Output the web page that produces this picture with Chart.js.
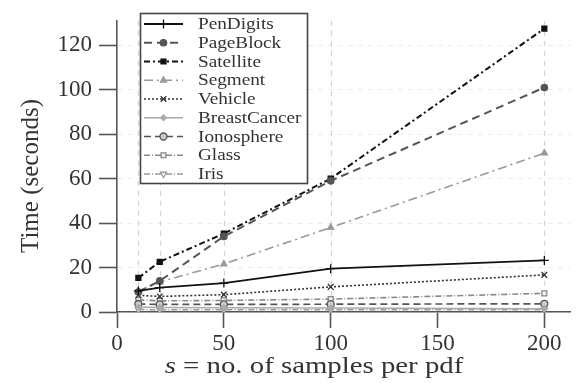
<!DOCTYPE html>
<html>
<head>
<meta charset="utf-8">
<script src="https://cdn.jsdelivr.net/npm/chart.js@4.4.0/dist/chart.umd.min.js"></script>
<style>
  html, body { margin: 0; padding: 0; background: #fff; }
  #wrap { width: 577px; height: 383px; }
</style>
</head>
<body>
<div id="wrap"><canvas id="timeChart"></canvas></div>
<script>
// samples per pdf (x values)
var sampleSizes = [10, 20, 50, 100, 200];

// running time in seconds, one array per data set
var penDigits    = [9.5, 11, 13, 19.5, 23.2];
var pageBlock    = [9, 14, 34, 59, 101];
var satellite    = [15.3, 22.6, 35.3, 60, 127.5];
var segment      = [9.5, 13.5, 21.6, 38, 71.5];
var vehicle      = [7.5, 7, 7.8, 11.3, 16.7];
var breastCancer = [2.2, 2, 1.9, 1.8, 1.5];
var ionosphere   = [3.6, 3.4, 3.4, 3.5, 3.7];
var glass        = [5.5, 5, 5.2, 5.8, 8.4];
var iris         = [1.1, 1, 1, 1, 1];

var yTicks = [0, 20, 40, 60, 80, 100, 120];
var xTicks = [0, 50, 100, 150, 200];

var serif = "'Liberation Serif', 'DejaVu Serif', serif";

function points(values) {
    return sampleSizes.map(function (s, i) { return { x: s, y: values[i] }; });
}

function series(label, values, color, dash, style, radius, fill, width, rot) {
    return {
        label: label,
        data: points(values),
        borderColor: color,
        borderWidth: width || 1.5,
        borderDash: dash,
        pointStyle: style,
        pointRadius: radius,
        pointRotation: rot || 0,
        pointBackgroundColor: fill,
        pointBorderColor: color,
        pointBorderWidth: 1.3,
        fill: false,
        tension: 0
    };
}

var datasets = [
    series("PenDigits", penDigits, "#111", [], "cross", 4.5, "#111", 1.8),
    series("PageBlock", pageBlock, "#555", [8, 5], "circle", 3.2, "#555", 2),
    series("Satellite", satellite, "#111", [6, 3, 2, 3], "rect", 3.5, "#111", 2),
    series("Segment", segment, "#999", [9, 4, 2, 4], "triangle", 3.5, "#999", 1.6),
    series("Vehicle", vehicle, "#333", [2, 2], "crossRot", 4, "#333", 1.6),
    series("BreastCancer", breastCancer, "#aaa", [], "rectRot", 2.8, "#aaa", 1.5),
    series("Ionosphere", ionosphere, "#555", [7, 4], "circle", 3.5, "#ccc", 1.7),
    series("Glass", glass, "#888", [6, 2, 1, 2], "rect", 3.5, "#eee", 1.6),
    series("Iris", iris, "#999", [6, 2, 1, 2], "triangle", 3.5, "#fff", 1.5, 180)
];

// dashed vertical guides at every sample size
var sampleGuides = {
    id: "sampleGuides",
    beforeDatasetsDraw: function (chart) {
        var ctx = chart.ctx, x = chart.scales.x, area = chart.chartArea;
        ctx.save();
        ctx.strokeStyle = "#d2d2d2";
        ctx.lineWidth = 1.2;
        ctx.setLineDash([5, 5]);
        sampleSizes.forEach(function (s) {
            var px = Math.round(x.getPixelForValue(s)) + 0.5;
            ctx.beginPath();
            ctx.moveTo(px, area.top);
            ctx.lineTo(px, area.bottom);
            ctx.stroke();
        });
        ctx.restore();
    }
};

// boxed legend with line samples and axis titles
var boxLegend = {
    id: "boxLegend",
    afterDraw: function (chart) {
        var ctx = chart.ctx;
        ctx.save();
        ctx.fillStyle = "#fff";
        ctx.fillRect(140, 13, 167, 170);
        ctx.strokeStyle = "#444";
        ctx.lineWidth = 1.6;
        ctx.setLineDash([]);
        ctx.strokeRect(140.5, 13.5, 167, 170);

        chart.data.datasets.forEach(function (ds, i) {
            var y = 24 + i * 18.75;
            ctx.strokeStyle = ds.borderColor;
            ctx.lineWidth = ds.borderWidth;
            ctx.setLineDash(ds.borderDash);
            ctx.beginPath();
            ctx.moveTo(144, y);
            ctx.lineTo(183, y);
            ctx.stroke();
            ctx.setLineDash([]);
            ctx.fillStyle = ds.pointBackgroundColor;
            ctx.strokeStyle = ds.pointBorderColor;
            ctx.lineWidth = ds.pointBorderWidth;
            Chart.helpers.drawPoint(ctx, {
                pointStyle: ds.pointStyle,
                radius: ds.pointRadius,
                rotation: ds.pointRotation,
                borderWidth: ds.pointBorderWidth
            }, 163.5, y);

            ctx.save();
            ctx.translate(198, y);
            ctx.scale(1.2, 1);
            ctx.fillStyle = "#333";
            ctx.font = "16px " + serif;
            ctx.textBaseline = "middle";
            ctx.fillText(ds.label, 0, 1);
            ctx.restore();
        });

        // x axis title, italic s as in the math source
        ctx.fillStyle = "#333";
        ctx.textBaseline = "middle";
        ctx.save();
        ctx.translate(314, 367);
        ctx.scale(1.2, 1);
        ctx.font = "italic 24px " + serif;
        var part1 = "s", part2 = " = no. of samples per pdf";
        var w1 = ctx.measureText(part1).width;
        ctx.font = "24px " + serif;
        var w2 = ctx.measureText(part2).width;
        var x0 = -(w1 + w2) / 2;
        ctx.font = "italic 24px " + serif;
        ctx.fillText(part1, x0, 0);
        ctx.font = "24px " + serif;
        ctx.fillText(part2, x0 + w1, 0);
        ctx.restore();

        ctx.translate(31, 176);
        ctx.rotate(-Math.PI / 2);
        ctx.textAlign = "center";
        ctx.font = "25px " + serif;
        ctx.fillText("Time (seconds)", 0, 0);
        ctx.restore();
    }
};

var ctx = document.getElementById("timeChart").getContext("2d");
var timeChart = new Chart(ctx, {
    type: "line",
    data: { datasets: datasets },
    options: {
        responsive: true,
        maintainAspectRatio: false,
        animation: false,
        layout: { padding: { left: 0, right: 7, top: 18, bottom: 0 } },
        plugins: {
            legend: { display: false },
            tooltip: { enabled: false }
        },
        scales: {
            x: {
                type: "linear",
                min: 0,
                max: 212,
                afterFit: function (scale) { scale.height = 71; },
                afterBuildTicks: function (scale) {
                    scale.ticks = xTicks.map(function (v) { return { value: v }; });
                },
                ticks: {
                    padding: 2,
                    color: "#333",
                    font: { family: serif, size: 23 },
                    maxRotation: 0
                },
                grid: {
                    drawOnChartArea: false,
                    tickLength: 16,
                    tickColor: "#555",
                    tickWidth: 1.6
                },
                border: { color: "#555", width: 1.6 }
            },
            y: {
                min: 0,
                max: 131,
                afterFit: function (scale) { scale.width = 117; },
                afterBuildTicks: function (scale) {
                    scale.ticks = yTicks.map(function (v) { return { value: v }; });
                },
                ticks: {
                    padding: 7,
                    color: "#333",
                    font: { family: serif, size: 23 }
                },
                grid: {
                    color: "#ececec",
                    lineWidth: 1,
                    tickLength: 18,
                    tickColor: "#555",
                    tickWidth: 1.6,
                    tickBorderDash: []
                },
                border: { color: "#555", width: 1.6, dash: [5, 5] }
            }
        }
    },
    plugins: [sampleGuides, boxLegend]
});
</script>
</body>
</html>
